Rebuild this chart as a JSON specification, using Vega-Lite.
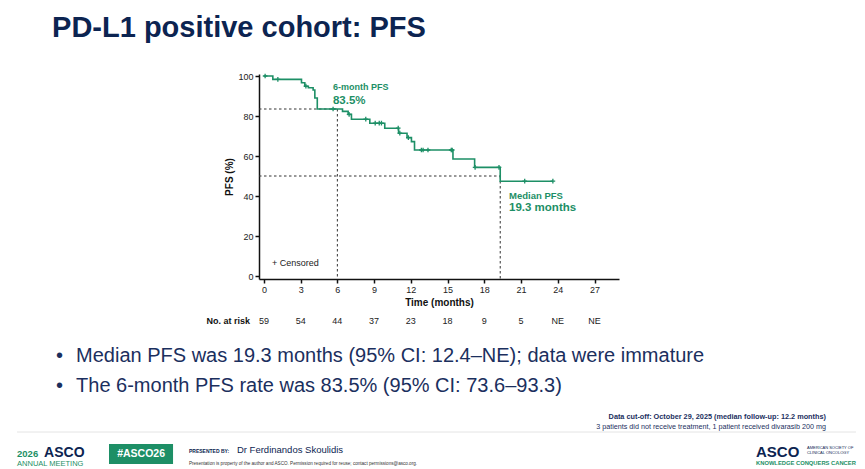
{
  "$schema": "https://vega.github.io/schema/vega-lite/v6.json",
  "width": 360,
  "height": 205,
  "autosize": {"type": "none"},
  "padding": {"left": 259, "top": 74, "right": 246, "bottom": 190},
  "background": "white",
  "data": {"values": [{}]},
  "config": {
    "font": "Liberation Sans",
    "view": {"stroke": null},
    "axis": {
      "domainColor": "#111111",
      "domainWidth": 1.5,
      "tickColor": "#111111",
      "tickWidth": 1.5,
      "tickSize": 4,
      "labelFont": "Liberation Sans",
      "labelFontSize": 9,
      "labelColor": "#222222",
      "labelPadding": 2,
      "labelOverlap": false,
      "labelFlush": false,
      "titleFont": "Liberation Sans",
      "titleFontSize": 10,
      "titleFontWeight": "bold",
      "titleColor": "#111111",
      "grid": false
    }
  },
  "datasets": {
    "km": [
      {"t": 0, "s": 100},
      {"t": 0.73, "s": 98.3},
      {"t": 3.07, "s": 96.6},
      {"t": 3.34, "s": 94.9},
      {"t": 3.63, "s": 94.1},
      {"t": 4.02, "s": 93.0},
      {"t": 4.16, "s": 89.0},
      {"t": 4.36, "s": 83.5},
      {"t": 6.42, "s": 82.3},
      {"t": 6.88, "s": 80.8},
      {"t": 7.15, "s": 78.4},
      {"t": 8.65, "s": 76.4},
      {"t": 9.87, "s": 73.9},
      {"t": 11.0, "s": 71.4},
      {"t": 11.69, "s": 69.2},
      {"t": 12.05, "s": 67.2},
      {"t": 12.3, "s": 63.0},
      {"t": 15.44, "s": 58.5},
      {"t": 17.21, "s": 54.3},
      {"t": 19.3, "s": 47.4},
      {"t": 23.6, "s": 47.4}
    ],
    "censored": [
      {"t": 0.1, "s": 100},
      {"t": 1.14, "s": 98.3},
      {"t": 3.43, "s": 94.9},
      {"t": 5.65, "s": 83.5},
      {"t": 6.96, "s": 80.8},
      {"t": 8.32, "s": 78.4},
      {"t": 9.09, "s": 76.4},
      {"t": 9.42, "s": 76.4},
      {"t": 9.6, "s": 76.4},
      {"t": 10.97, "s": 73.9},
      {"t": 11.1, "s": 71.4},
      {"t": 11.8, "s": 69.2},
      {"t": 12.86, "s": 63.0},
      {"t": 13.0, "s": 63.0},
      {"t": 13.4, "s": 63.0},
      {"t": 15.3, "s": 63.0},
      {"t": 15.38, "s": 63.0},
      {"t": 17.25, "s": 54.3},
      {"t": 19.2, "s": 54.3},
      {"t": 21.3, "s": 47.4},
      {"t": 23.6, "s": 47.4}
    ],
    "refs": [
      {"t0": -0.4, "t1": 6, "s0": 83.5, "s1": 83.5},
      {"t0": 6, "t1": 6, "s0": 83.5, "s1": -1.5},
      {"t0": -0.4, "t1": 19.3, "s0": 50, "s1": 50},
      {"t0": 19.3, "t1": 19.3, "s0": 50, "s1": -1.5}
    ],
    "atrisk": [
      {"t": 0, "n": "59"},
      {"t": 3, "n": "54"},
      {"t": 6, "n": "44"},
      {"t": 9, "n": "37"},
      {"t": 12, "n": "23"},
      {"t": 15, "n": "18"},
      {"t": 18, "n": "9"},
      {"t": 21, "n": "5"},
      {"t": 24, "n": "NE"},
      {"t": 27, "n": "NE"}
    ]
  },
  "layer": [
    {
      "data": {"name": "refs"},
      "mark": {"type": "rule", "color": "#333333", "strokeWidth": 1, "strokeDash": [2.5, 2.5]},
      "encoding": {
        "x": {
          "field": "t0", "type": "quantitative",
          "scale": {"domain": [-0.4, 29], "nice": false, "zero": false},
          "axis": {"values": [0, 3, 6, 9, 12, 15, 18, 21, 24, 27], "tickCount": 12, "title": "Time (months)", "titlePadding": 3}
        },
        "y": {
          "field": "s0", "type": "quantitative",
          "scale": {"domain": [-1.5, 101], "nice": false, "zero": false},
          "axis": {"values": [0, 20, 40, 60, 80, 100], "tickCount": 8, "title": "PFS (%)", "titlePadding": 3}
        },
        "x2": {"field": "t1"},
        "y2": {"field": "s1"}
      }
    },
    {
      "data": {"name": "km"},
      "mark": {"type": "line", "interpolate": "step-after", "color": "#1d8f66", "strokeWidth": 1.6},
      "encoding": {
        "x": {"field": "t", "type": "quantitative"},
        "y": {"field": "s", "type": "quantitative"}
      }
    },
    {
      "data": {"name": "censored"},
      "mark": {"type": "point", "shape": "M-1,0H1M0,-1V1", "filled": false, "color": "#1d8f66", "strokeWidth": 1.3, "size": 22, "opacity": 1},
      "encoding": {
        "x": {"field": "t", "type": "quantitative"},
        "y": {"field": "s", "type": "quantitative"}
      }
    },
    {
      "data": {"name": "atrisk"},
      "mark": {"type": "text", "fontSize": 9, "color": "#222222", "baseline": "alphabetic", "align": "center"},
      "encoding": {
        "x": {"field": "t", "type": "quantitative"},
        "y": {"datum": -23.75},
        "text": {"field": "n"}
      }
    },
    {
      "mark": {"type": "text", "text": "No. at risk", "fontSize": 9, "fontWeight": "bold", "color": "#111111", "align": "right", "baseline": "alphabetic"},
      "encoding": {"x": {"datum": -1.13}, "y": {"datum": -23.75}}
    },
    {
      "mark": {"type": "text", "text": "+ Censored", "fontSize": 9, "color": "#222222", "align": "left", "baseline": "alphabetic"},
      "encoding": {"x": {"datum": 0.66}, "y": {"datum": 5.25}}
    },
    {
      "mark": {"type": "text", "text": "6-month PFS", "fontSize": 9, "fontWeight": "bold", "color": "#1d8f66", "align": "left", "baseline": "alphabetic"},
      "encoding": {"x": {"datum": 5.64}, "y": {"datum": 93}}
    },
    {
      "mark": {"type": "text", "text": "83.5%", "fontSize": 11.5, "fontWeight": "bold", "color": "#1d8f66", "align": "left", "baseline": "alphabetic"},
      "encoding": {"x": {"datum": 5.64}, "y": {"datum": 86.25}}
    },
    {
      "mark": {"type": "text", "text": "Median PFS", "fontSize": 9.5, "fontWeight": "bold", "color": "#1d8f66", "align": "left", "baseline": "alphabetic"},
      "encoding": {"x": {"datum": 20.02}, "y": {"datum": 38.75}}
    },
    {
      "mark": {"type": "text", "text": "19.3 months", "fontSize": 11.5, "fontWeight": "bold", "color": "#1d8f66", "align": "left", "baseline": "alphabetic"},
      "encoding": {"x": {"datum": 20.02}, "y": {"datum": 32.5}}
    },
    {
      "mark": {"type": "text", "text": "PD-L1 positive cohort: PFS", "fontSize": 29, "fontWeight": "bold", "color": "#0c2451", "align": "left", "baseline": "alphabetic"},
      "encoding": {"x": {"datum": -17.3}, "y": {"datum": 119.5}}
    },
    {
      "mark": {"type": "text", "text": "•", "fontSize": 20, "color": "#1b2f5e", "align": "left", "baseline": "alphabetic"},
      "encoding": {"x": {"datum": -16.98}, "y": {"datum": -42.75}}
    },
    {
      "mark": {"type": "text", "text": "Median PFS was 19.3 months (95% CI: 12.4–NE); data were immature", "fontSize": 20, "color": "#1b2f5e", "align": "left", "baseline": "alphabetic"},
      "encoding": {"x": {"datum": -15.34}, "y": {"datum": -42.75}}
    },
    {
      "mark": {"type": "text", "text": "•", "fontSize": 20, "color": "#1b2f5e", "align": "left", "baseline": "alphabetic"},
      "encoding": {"x": {"datum": -16.98}, "y": {"datum": -57.75}}
    },
    {
      "mark": {"type": "text", "text": "The 6-month PFS rate was 83.5% (95% CI: 73.6–93.3)", "fontSize": 20, "color": "#1b2f5e", "align": "left", "baseline": "alphabetic"},
      "encoding": {"x": {"datum": -15.34}, "y": {"datum": -57.75}}
    },
    {
      "mark": {"type": "text", "text": "Data cut-off: October 29, 2025 (median follow-up: 12.2 months)", "fontSize": 7.3, "fontWeight": "bold", "color": "#1b2f5e", "align": "right", "baseline": "alphabetic"},
      "encoding": {"x": {"datum": 45.9}, "y": {"datum": -71.5}}
    },
    {
      "mark": {"type": "text", "text": "3 patients did not receive treatment, 1 patient received divarasib 200 mg", "fontSize": 7.2, "color": "#1b2f5e", "align": "right", "baseline": "alphabetic"},
      "encoding": {"x": {"datum": 45.9}, "y": {"datum": -76.5}}
    },
    {
      "mark": {"type": "rule", "color": "#e4e4e4", "strokeWidth": 1},
      "encoding": {"x": {"datum": -20.16}, "x2": {"datum": 48.35}, "y": {"datum": -78}}
    },
    {
      "mark": {"type": "text", "text": "2026", "fontSize": 9.5, "fontWeight": "bold", "color": "#1d8f66", "align": "left", "baseline": "alphabetic"},
      "encoding": {"x": {"datum": -20.16}, "y": {"datum": -90.5}}
    },
    {
      "mark": {"type": "text", "text": "ASCO", "fontSize": 14, "fontWeight": "bold", "color": "#0c2451", "align": "left", "baseline": "alphabetic"},
      "encoding": {"x": {"datum": -17.95}, "y": {"datum": -90.5}}
    },
    {
      "mark": {"type": "text", "text": "ANNUAL MEETING", "fontSize": 7.5, "color": "#1d8f66", "align": "left", "baseline": "alphabetic"},
      "encoding": {"x": {"datum": -20.16}, "y": {"datum": -95}}
    },
    {
      "mark": {"type": "rect", "color": "#1d8f66"},
      "encoding": {"x": {"datum": -12.65}, "x2": {"datum": -7.42}, "y": {"datum": -84}, "y2": {"datum": -94}}
    },
    {
      "mark": {"type": "text", "text": "#ASCO26", "fontSize": 10.5, "fontWeight": "bold", "color": "white", "align": "center", "baseline": "middle"},
      "encoding": {"x": {"datum": -10.03}, "y": {"datum": -89}}
    },
    {
      "mark": {"type": "text", "text": "PRESENTED BY:", "fontSize": 5, "fontWeight": "bold", "color": "#0c2451", "align": "left", "baseline": "alphabetic"},
      "encoding": {"x": {"datum": -6.12}, "y": {"datum": -88.25}}
    },
    {
      "mark": {"type": "text", "text": "Dr Ferdinandos Skoulidis", "fontSize": 9.5, "color": "#0c2451", "align": "left", "baseline": "alphabetic"},
      "encoding": {"x": {"datum": -2.2}, "y": {"datum": -88.5}}
    },
    {
      "mark": {"type": "text", "text": "Presentation is property of the author and ASCO. Permission required for reuse; contact permissions@asco.org.", "fontSize": 4.6, "color": "#333333", "align": "left", "baseline": "alphabetic"},
      "encoding": {"x": {"datum": -6.12}, "y": {"datum": -94.25}}
    },
    {
      "mark": {"type": "text", "text": "ASCO", "fontSize": 15, "fontWeight": "bold", "color": "#0c2451", "align": "left", "baseline": "alphabetic"},
      "encoding": {"x": {"datum": 40.19}, "y": {"datum": -90.25}}
    },
    {
      "mark": {"type": "text", "text": "AMERICAN SOCIETY OF", "fontSize": 4, "color": "#0c2451", "align": "left", "baseline": "alphabetic"},
      "encoding": {"x": {"datum": 44.35}, "y": {"datum": -86.5}}
    },
    {
      "mark": {"type": "text", "text": "CLINICAL ONCOLOGY", "fontSize": 4, "color": "#0c2451", "align": "left", "baseline": "alphabetic"},
      "encoding": {"x": {"datum": 44.35}, "y": {"datum": -89}}
    },
    {
      "mark": {"type": "text", "text": "KNOWLEDGE CONQUERS CANCER", "fontSize": 5.8, "fontWeight": "bold", "color": "#1d8f66", "align": "left", "baseline": "alphabetic"},
      "encoding": {"x": {"datum": 40.19}, "y": {"datum": -94.5}}
    }
  ]
}
